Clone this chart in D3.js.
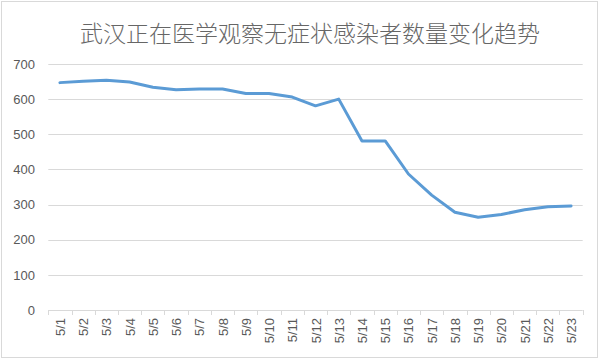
<!DOCTYPE html>
<html><head><meta charset="utf-8">
<script src="https://cdn.jsdelivr.net/npm/d3@7"></script>
<style>body{margin:0;background:#fff}svg{display:block}</style>
</head><body>
<svg id="c" width="600" height="360"></svg>
<script>
const title = "武汉正在医学观察无症状感染者数量变化趋势";
const categories = ["5/1","5/2","5/3","5/4","5/5","5/6","5/7","5/8","5/9","5/10","5/11","5/12","5/13","5/14","5/15","5/16","5/17","5/18","5/19","5/20","5/21","5/22","5/23"];
const values = [647,651,654,649,634,627,629,629,616,616,606,581,600,481,481,387,327,278,264,272,285,294,296];
const yTicks = [0,100,200,300,400,500,600,700];

const svg = d3.select("#c");
svg.append("rect").attr("x",1.5).attr("y",1.5).attr("width",596).attr("height",356)
  .attr("fill","#fff").attr("stroke","#d9d9d9").attr("stroke-width",1);

svg.append("text").attr("x",310).attr("y",42).attr("text-anchor","middle")
  .attr("font-family","'Noto Sans CJK SC'").attr("font-weight",300).attr("font-size",23)
  .attr("fill","#666").text(title);

const x = d3.scaleBand().domain(categories).range([48.3,582.7]);
const y = d3.scaleLinear().domain([0,700]).range([310,64]);

const grid = svg.append("g");
grid.selectAll("line").data(yTicks.filter(d=>d>0)).join("line")
  .attr("x1",48.3).attr("x2",582.7).attr("y1",d=>Math.round(y(d))+0.5).attr("y2",d=>Math.round(y(d))+0.5)
  .attr("stroke","#d9d9d9").attr("stroke-width",1);

const yAxis = svg.append("g").attr("transform","translate(48,0)")
  .call(d3.axisLeft(y).tickValues(yTicks).tickSize(0).tickPadding(13));
yAxis.select(".domain").remove();
yAxis.selectAll("text").attr("font-family","'Liberation Sans', Arial").attr("font-size",13).attr("fill","#595959");

// x axis
const xa = svg.append("g");
xa.append("line").attr("x1",48.3).attr("x2",582.7).attr("y1",310.5).attr("y2",310.5).attr("stroke","#d9d9d9");
const bounds = categories.map(c=>x(c)).concat([x.range()[1]]);
xa.selectAll("line.t").data(bounds).join("line").attr("class","t")
  .attr("x1",d=>Math.round(d)+0.5).attr("x2",d=>Math.round(d)+0.5).attr("y1",310).attr("y2",315)
  .attr("stroke","#d9d9d9");
xa.selectAll("text").data(categories).join("text")
  .attr("transform",d=>`translate(${x(d)+x.bandwidth()/2+5},318) rotate(-90)`)
  .attr("text-anchor","end")
  .attr("font-family","'Liberation Sans', Arial").attr("font-size",13).attr("fill","#595959")
  .text(d=>d);

const line = d3.line().x((d,i)=>x(categories[i])+x.bandwidth()/2).y(d=>y(d))
  .curve(d3.curveLinear);
svg.append("path").datum(values).attr("d",line).attr("fill","none")
  .attr("stroke","#5b9bd5").attr("stroke-width",3).attr("stroke-linecap","round").attr("stroke-linejoin","round");
</script>
</body></html>
